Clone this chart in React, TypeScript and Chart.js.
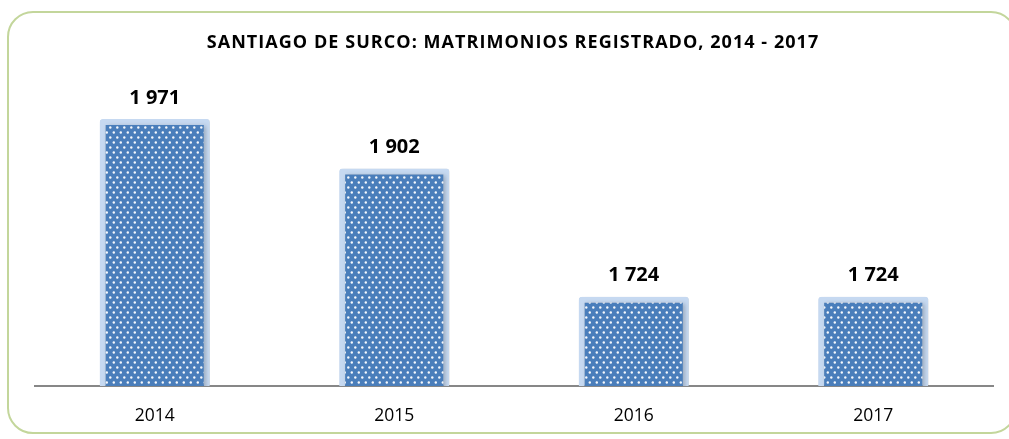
import React, { useEffect, useRef } from "react";
import { Chart, registerables } from "chart.js";

Chart.register(...registerables);

const categories = ["2014", "2015", "2016", "2017"];
const values = [1971, 1902, 1724, 1724];
const valueLabels = ["1 971", "1 902", "1 724", "1 724"];
const titleText = "SANTIAGO DE SURCO: MATRIMONIOS REGISTRADO, 2014 - 2017";

function makePattern(): CanvasPattern | string {
  const c = document.createElement("canvas");
  c.width = 7;
  c.height = 10;
  const g = c.getContext("2d");
  if (!g) return "#4a7ebb";
  g.fillStyle = "#4a7ebb";
  g.fillRect(0, 0, 7, 10);
  g.fillStyle = "rgba(255,255,255,0.95)";
  const dots = [
    [1.8, 2.5],
    [5.3, 7.5],
  ];
  for (const [x, y] of dots) {
    g.beginPath();
    g.arc(x, y, 1.2, 0, Math.PI * 2);
    g.fill();
  }
  const p = g.createPattern(c, "repeat");
  return p || "#4a7ebb";
}

const titlePlugin = {
  id: "spacedTitle",
  afterDraw(chart: any) {
    const ctx = chart.ctx;
    const area = chart.chartArea;
    ctx.save();
    ctx.font = "bold 18px 'Open Sans', sans-serif";
    (ctx as any).letterSpacing = "1.05px";
    ctx.fillStyle = "#000";
    ctx.textAlign = "center";
    ctx.textBaseline = "middle";
    ctx.fillText(titleText, (area.left + area.right) / 2 - 1, 43);
    ctx.restore();
  },
};

const labelPlugin = {
  id: "valueLabels",
  afterDatasetsDraw(chart: any) {
    const ctx = chart.ctx;
    const meta = chart.getDatasetMeta(0);
    ctx.save();
    ctx.font = "bold 20px 'Open Sans', sans-serif";
    ctx.fillStyle = "#000";
    ctx.textAlign = "center";
    ctx.textBaseline = "middle";
    meta.data.forEach((el: any, i: number) => {
      ctx.fillText(valueLabels[i], el.x, el.y - 21);
    });
    ctx.restore();
  },
};

const shadowPlugin = {
  id: "barShadow",
  beforeDatasetsDraw(chart: any) {
    const ctx = chart.ctx;
    ctx.save();
    ctx.shadowColor = "rgba(0,0,0,0.22)";
    ctx.shadowBlur = 4;
    ctx.shadowOffsetX = 2;
    ctx.shadowOffsetY = 1;
  },
  afterDatasetsDraw(chart: any) {
    chart.ctx.restore();
  },
};

export default function App() {
  const ref = useRef<HTMLCanvasElement>(null);
  useEffect(() => {
    document.body.style.margin = "0";
    document.body.style.overflow = "hidden";
    if (!ref.current) return;
    const chart = new Chart(ref.current, {
      type: "bar",
      data: {
        labels: categories,
        datasets: [
          {
            data: values,
            backgroundColor: makePattern() as any,
            borderColor: "#c6d9f1",
            borderWidth: 6,
            borderRadius: 3,
            borderSkipped: "start",
            barPercentage: 0.46,
            categoryPercentage: 1,
          },
        ],
      },
      options: {
        animation: false,
        responsive: false,
        maintainAspectRatio: false,
        layout: { padding: { left: 35, right: 16, top: 98, bottom: 0 } },
        plugins: {
          legend: { display: false },
          tooltip: { enabled: false },
          title: { display: false },
        },
        scales: {
          x: {
            grid: { display: false, drawTicks: false },
            border: { display: true, color: "#878787", width: 2 },
            ticks: {
              color: "#000",
              font: { family: "'Open Sans', sans-serif", size: 17.5 },
              padding: 20,
            },
            afterFit: (scale: any) => {
              scale.height = 53;
            },
          },
          y: {
            display: false,
            min: 1600,
            max: 2000,
          },
        },
      },
      plugins: [shadowPlugin, labelPlugin, titlePlugin],
    });
    return () => chart.destroy();
  }, []);

  return (
    <div style={{ position: "fixed", left: 0, top: 0, width: 1009, height: 439, overflow: "hidden", background: "#fff" }}>
      <div
        style={{
          position: "absolute",
          left: 7,
          top: 11,
          width: 1010,
          height: 423,
          border: "2px solid #c3d69b",
          borderRadius: 26,
          boxSizing: "border-box",
        }}
      />
      <canvas ref={ref} width={1009} height={439} style={{ position: "absolute", left: 0, top: 0 }} />
    </div>
  );
}
